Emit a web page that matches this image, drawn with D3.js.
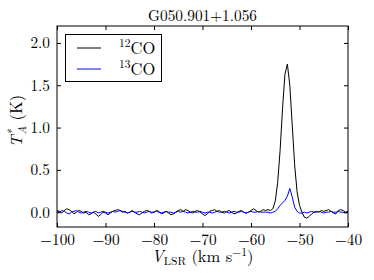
<!DOCTYPE html>
<html><head><meta charset="utf-8">
<script src="https://cdn.jsdelivr.net/npm/d3@7/dist/d3.min.js"></script>
<style>
html,body{margin:0;padding:0;background:#fff;}
svg text{fill:#000;}
</style></head>
<body><svg id="c" width="374" height="280"></svg>
<script>
const title = "G050.901+1.056";
const xTicks = [-100,-90,-80,-70,-60,-50,-40];
const yTicks = [0.0,0.5,1.0,1.5,2.0];
const velocity = [
-100,-99.5,-99,-98.5,-98,-97.5,-97,-96.5,-96,-95.5,-95,-94.5,-94,-93.5,-93,-92.5,-92,-91.5,-91,-90.5,
-90,-89.5,-89,-88.5,-88,-87.5,-87,-86.5,-86,-85.5,-85,-84.5,-84,-83.5,-83,-82.5,-82,-81.5,-81,-80.5,
-80,-79.5,-79,-78.5,-78,-77.5,-77,-76.5,-76,-75.5,-75,-74.5,-74,-73.5,-73,-72.5,-72,-71.5,-71,-70.5,
-70,-69.5,-69,-68.5,-68,-67.5,-67,-66.5,-66,-65.5,-65,-64.5,-64,-63.5,-63,-62.5,-62,-61.5,-61,-60.5,
-60,-59.5,-59,-58.5,-58,-57.5,-57,-56.5,-56,-55.5,-55,-54.5,-54,-53.5,-53,-52.5,-52,-51.5,-51,-50.5,
-50,-49.5,-49,-48.5,-48,-47.5,-47,-46.5,-46,-45.5,-45,-44.5,-44,-43.5,-43,-42.5,-42,-41.5,-41,-40.5,
-40];
const co12 = [
0.02,0.01,-0.01,0.02,0.04,0.03,0.01,-0.02,0.00,0.02,0.01,-0.01,0.00,-0.03,-0.02,0.00,-0.02,-0.05,-0.03,0.00,
-0.01,-0.03,-0.01,0.01,0.02,0.03,0.02,0.00,0.01,-0.01,0.00,0.02,0.00,-0.02,-0.03,-0.01,0.01,0.02,0.01,-0.01,
0.00,0.02,0.01,-0.02,-0.01,0.01,-0.01,-0.03,-0.02,0.00,0.02,0.03,0.01,0.03,0.02,0.00,-0.01,0.01,0.02,0.00,
-0.02,-0.04,-0.02,0.01,0.02,0.03,0.01,0.02,0.00,-0.01,0.01,0.02,0.00,-0.02,-0.01,0.01,0.02,0.00,-0.01,0.00,
0.02,0.04,0.02,0.00,0.01,0.03,0.02,0.03,0.02,0.04,0.13,0.35,0.73,1.22,1.63,1.75,1.50,1.03,0.56,0.24,
0.08,0.00,-0.06,-0.07,-0.05,-0.02,0.00,0.01,0.00,0.02,0.01,0.02,0.03,0.01,-0.01,-0.02,0.02,0.03,0.02,0.00,
0.01];
const co13 = [
0.01,0.00,0.02,0.01,-0.01,-0.02,0.00,0.01,0.02,0.00,-0.01,0.00,0.01,0.00,-0.01,0.00,0.01,-0.01,0.00,0.01,
0.00,-0.01,0.00,0.01,0.00,0.01,0.02,0.01,0.00,-0.01,0.00,0.01,0.00,0.00,0.01,0.00,-0.01,0.00,0.01,0.00,
0.00,0.01,0.00,-0.01,0.00,0.01,0.00,0.00,-0.01,0.00,0.01,0.00,0.01,0.00,-0.01,0.00,0.01,0.00,0.00,0.01,
0.00,-0.01,0.00,0.00,-0.01,0.00,0.01,0.00,0.00,0.01,0.00,-0.01,0.00,0.01,0.00,0.00,0.01,0.00,-0.01,0.00,
0.01,0.00,0.00,0.01,0.00,0.00,0.00,0.00,-0.01,0.00,0.01,0.04,0.08,0.11,0.14,0.19,0.28,0.18,0.06,0.01,
-0.01,-0.01,0.00,-0.01,0.00,0.01,0.00,0.00,0.01,0.00,-0.01,0.00,0.00,0.01,0.00,0.00,0.01,0.00,0.00,-0.01,
0.00];
const seriesNames = ["12CO","13CO"];
const seriesColors = ["#000000","#0000ff"];

const W=374,H=280, m={l:57,r:26,t:26,b:53};
const FONT="'Latin Modern Roman','CMU Serif','Liberation Serif',serif";
const FS="15.3px";
const svg=d3.select("#c");
const x=d3.scaleLinear().domain([-100,-40]).range([m.l,W-m.r]);
const y=d3.scaleLinear().domain([-0.175,2.2]).range([H-m.b,m.t]);
const fmtX=d=>(d<0?"\u2212":"")+Math.abs(d);
const fmtY=d3.format(".1f");

// data lines
svg.append("clipPath").attr("id","pc").append("rect")
 .attr("x",m.l).attr("y",m.t).attr("width",W-m.l-m.r).attr("height",H-m.t-m.b);
const line=(arr)=>d3.line().x((d,i)=>x(velocity[i])).y(d=>y(d))(arr);
const g=svg.append("g").attr("clip-path","url(#pc)");
[co12,co13].forEach((s,k)=>{
 g.append("path").attr("d",line(s)).attr("fill","none")
  .attr("stroke",seriesColors[k]).attr("stroke-width",1);
});

// axes (inward ticks on all sides)
const tl=4;
const bx=svg.append("g").attr("transform",`translate(0,${H-m.b})`)
 .call(d3.axisBottom(x).tickValues(xTicks).tickSize(-tl).tickPadding(7).tickFormat(fmtX));
const tx=svg.append("g").attr("transform",`translate(0,${m.t})`)
 .call(d3.axisTop(x).tickValues(xTicks).tickSize(-tl).tickFormat(""));
const ly=svg.append("g").attr("transform",`translate(${m.l},0)`)
 .call(d3.axisLeft(y).tickValues(yTicks).tickSize(-tl).tickPadding(7).tickFormat(fmtY));
const ry=svg.append("g").attr("transform",`translate(${W-m.r},0)`)
 .call(d3.axisRight(y).tickValues(yTicks).tickSize(-tl).tickFormat(""));
[bx,tx,ly,ry].forEach(a=>{
 a.attr("font-family",null).attr("font-size",null);
 a.select(".domain").remove();
 a.selectAll("line").attr("stroke","#000").attr("stroke-width",1);
 a.selectAll("text").style("font-family",FONT).style("font-size",FS).attr("fill","#000");
});
svg.append("rect").attr("x",m.l).attr("y",m.t).attr("width",W-m.l-m.r).attr("height",H-m.t-m.b)
 .attr("fill","none").attr("stroke","#000").attr("stroke-width",1);

// title
svg.append("text").attr("x",(m.l+W-m.r)/2).attr("y",21).attr("text-anchor","middle")
 .style("font-family",FONT).style("font-size",FS).text(title);

// x label
const xl=svg.append("text").attr("x",(m.l+W-m.r)/2).attr("y",262).attr("text-anchor","middle")
 .style("font-family",FONT).style("font-size","16.5px");
xl.append("tspan").attr("font-style","italic").text("V");
xl.append("tspan").style("font-size","11.5px").attr("dy",3).text("LSR");
xl.append("tspan").attr("dy",-3).text(" (km s");
xl.append("tspan").style("font-size","11.5px").attr("dy",-6).text("\u22121");
xl.append("tspan").attr("dy",6).text(")");

// y label
const yl=svg.append("text").attr("transform","translate(22,121) rotate(-90)").attr("text-anchor","middle")
 .style("font-family",FONT).style("font-size","16.5px");
yl.append("tspan").attr("font-style","italic").text("T");
yl.append("tspan").style("font-size","11.5px").attr("font-style","italic").attr("dy",-6).text("*");
yl.append("tspan").style("font-size","11.5px").attr("font-style","italic").attr("dx",-5).attr("dy",10).text("A");
yl.append("tspan").attr("dy",-4).text(" (K)");

// legend
const lg=svg.append("g");
lg.append("rect").attr("x",65.5).attr("y",34.5).attr("width",96).attr("height",47)
 .attr("fill","#fff").attr("stroke","#000").attr("stroke-width",1);
seriesNames.forEach((n,k)=>{
 const yy=48+k*21;
 lg.append("line").attr("x1",77).attr("x2",101).attr("y1",yy).attr("y2",yy)
  .attr("stroke",seriesColors[k]).attr("stroke-width",1);
 const t=lg.append("text").attr("x",119).attr("y",yy+6).style("font-family",FONT).style("font-size","16.5px");
 t.append("tspan").style("font-size","11.5px").attr("dy",-7).text(n.slice(0,2));
 t.append("tspan").attr("dy",7).text(n.slice(2));
});
</script></body></html>
